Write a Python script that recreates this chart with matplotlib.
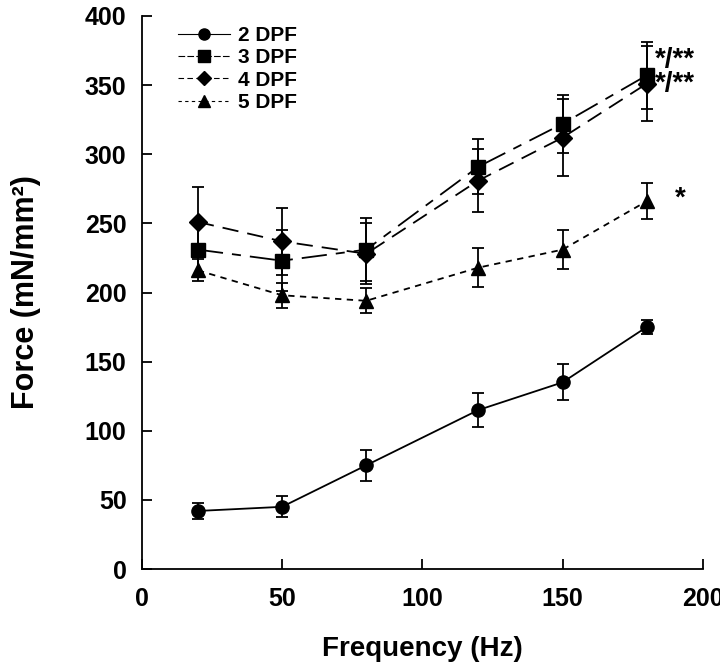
import matplotlib
matplotlib.use("Agg")
import matplotlib.pyplot as plt
from matplotlib.lines import Line2D

plt.rcParams['font.family'] = ['Liberation Sans', 'DejaVu Sans']
plt.rcParams['font.weight'] = 'bold'

# frequency (Hz)
freq = [20, 50, 80, 120, 150, 180]

# force (mN/mm^2) and error for each age group
dpf2 = [42, 45, 75, 115, 135, 175]
dpf2_err = [5.5, 7.5, 11, 12, 13, 5]
dpf3 = [231, 223, 231, 291, 322, 357]
dpf3_err = [20, 22, 23, 20, 21, 24]
dpf4 = [251, 237, 228, 281, 312, 351]
dpf4_err = [25, 24, 22, 23, 28, 27]
dpf5 = [216, 198, 194, 218, 231, 266]
dpf5_err = [8, 9, 9, 14, 14, 13]

labels = ['2 DPF', '3 DPF', '4 DPF', '5 DPF']
markers = ['o', 's', 'D', '^']
styles = ['-', (0, (14, 5, 5, 5)), (0, (9, 5)), (0, (3.5, 3))]

fig = plt.figure(figsize=(7.2, 6.66), dpi=100)
ax = fig.add_axes([0.197, 0.1456, 0.779, 0.8304])

common = dict(color='black', ecolor='black', elinewidth=1.3, capsize=4,
              capthick=1.3, linewidth=1.3)

series = [(dpf2, dpf2_err), (dpf3, dpf3_err), (dpf4, dpf4_err), (dpf5, dpf5_err)]
sizes = [9.5, 10, 9, 10.5]
for (vals, err), m, ls, ms in zip(series, markers, styles, sizes):
    ax.errorbar(freq, vals, yerr=err, marker=m, linestyle=ls, markersize=ms, **common)

# legend without error bars
handles = [Line2D([], [], color='black', marker=m, linestyle=ls, linewidth=0.8,
                  markersize=8 if m != 'D' else 7.5)
           for m, ls in zip(markers, ['-', (0, (6, 2)), (0, (5, 3)), (0, (3, 3))])]
ax.legend(handles, labels, loc='upper left', bbox_to_anchor=(0.064, 0.982), frameon=False,
          prop={'size': 15, 'weight': 'bold'}, handlelength=2.5,
          labelspacing=0.16, handletextpad=0.4, borderpad=0, borderaxespad=0)

# significance marks
ax.text(183, 368, '*/**', fontsize=20, ha='left', va='center')
ax.text(183, 351, '*/**', fontsize=20, ha='left', va='center')
ax.text(190, 268, '*', fontsize=20, ha='left', va='center')

ax.set_xlim(0, 200)
ax.set_ylim(0, 400)
ax.set_xticks([0, 50, 100, 150, 200])
ax.set_yticks(range(0, 401, 50))
ax.tick_params(direction='in', length=7.5, width=1.3, labelsize=18)
ax.tick_params(axis='x', pad=13)
ax.tick_params(axis='y', pad=11)
for lab in ax.get_xticklabels() + ax.get_yticklabels():
    lab.set_fontweight('bold')
ax.spines['top'].set_visible(False)
ax.spines['right'].set_visible(False)
ax.spines['left'].set_linewidth(1.3)
ax.spines['bottom'].set_linewidth(1.3)

ax.set_xlabel('Frequency (Hz)', fontsize=20, fontweight='bold', labelpad=18)
ax.set_ylabel('Force (mN/mm²)', fontsize=22, fontweight='bold')
ax.yaxis.set_label_coords(-0.18, 0.5)

fig.savefig('out.png', dpi=100)
